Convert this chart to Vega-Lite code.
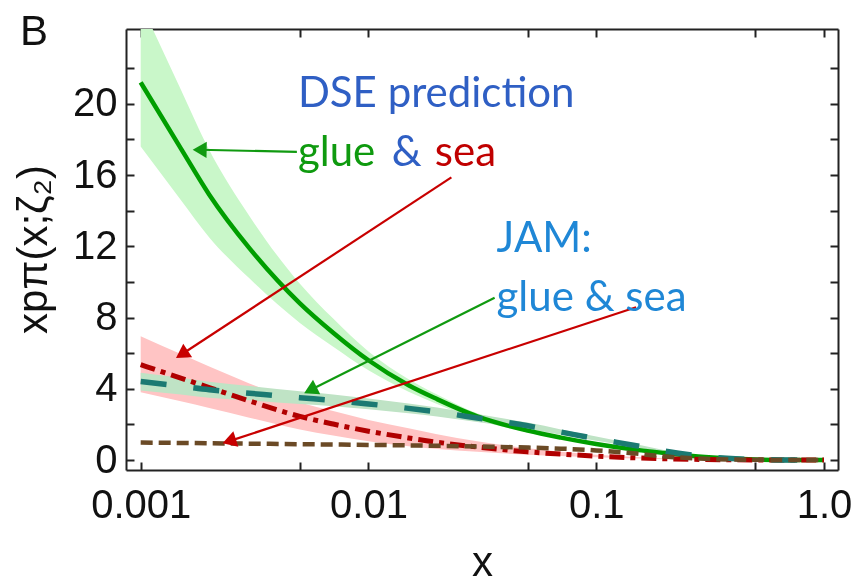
{
  "$schema": "https://vega.github.io/schema/vega-lite/v6.json",
  "autosize": {"type": "none"},
  "width": 712,
  "height": 441,
  "padding": {"top": 29, "left": 126, "right": 21, "bottom": 114},
  "background": "white",
  "title": {"text": "B", "anchor": "start", "frame": "group", "orient": "top", "offset": 0, "dx": -106, "dy": 59, "baseline": "alphabetic", "font": "Liberation Sans", "fontSize": 42, "fontWeight": "normal", "color": "#111"},
  "config": {
    "view": {"stroke": null},
    "axis": {"grid": false, "domainColor": "#222", "domainWidth": 2, "tickColor": "#222", "tickWidth": 2, "tickSize": -8, "labelFont": "Liberation Sans", "labelFontSize": 40, "labelColor": "#111", "titleFont": "Liberation Sans", "titleFontWeight": "normal", "titleColor": "#111", "labelOverlap": false, "labelFlush": false}
  },
  "datasets": {
    "curves": [
      {"x": 0.001, "g": 21.2, "g_lo": 17.6, "g_hi": 25.65, "s": 5.35, "s_lo": 3.8, "s_hi": 6.95, "jg": 4.41, "jg_lo": 3.9, "jg_hi": 4.9, "js": 0.98},
      {"x": 0.0015, "g": 17.5, "g_lo": 14.6, "g_hi": 20.8, "s": 4.6, "s_lo": 3.3, "s_hi": 5.95, "jg": 4.15, "jg_lo": 3.68, "jg_hi": 4.62, "js": 0.96},
      {"x": 0.002, "g": 14.9, "g_lo": 12.5, "g_hi": 17.4, "s": 4.07, "s_lo": 2.92, "s_hi": 5.25, "jg": 3.95, "jg_lo": 3.5, "jg_hi": 4.4, "js": 0.94},
      {"x": 0.003, "g": 11.9, "g_lo": 10.2, "g_hi": 13.7, "s": 3.32, "s_lo": 2.38, "s_hi": 4.3, "jg": 3.75, "jg_lo": 3.35, "jg_hi": 4.15, "js": 0.92},
      {"x": 0.005, "g": 8.8, "g_lo": 7.7, "g_hi": 9.9, "s": 2.45, "s_lo": 1.72, "s_hi": 3.25, "jg": 3.5, "jg_lo": 3.14, "jg_hi": 3.86, "js": 0.89},
      {"x": 0.007, "g": 7.15, "g_lo": 6.36, "g_hi": 7.94, "s": 2.02, "s_lo": 1.38, "s_hi": 2.75, "jg": 3.35, "jg_lo": 3.02, "jg_hi": 3.68, "js": 0.87},
      {"x": 0.01, "g": 5.6, "g_lo": 5.04, "g_hi": 6.1, "s": 1.62, "s_lo": 1.06, "s_hi": 2.25, "jg": 3.15, "jg_lo": 2.85, "jg_hi": 3.45, "js": 0.85},
      {"x": 0.015, "g": 4.2, "g_lo": 3.84, "g_hi": 4.54, "s": 1.24, "s_lo": 0.78, "s_hi": 1.78, "jg": 2.9, "jg_lo": 2.63, "jg_hi": 3.17, "js": 0.82},
      {"x": 0.02, "g": 3.42, "g_lo": 3.15, "g_hi": 3.68, "s": 1.0, "s_lo": 0.62, "s_hi": 1.45, "jg": 2.7, "jg_lo": 2.45, "jg_hi": 2.95, "js": 0.8},
      {"x": 0.03, "g": 2.45, "g_lo": 2.28, "g_hi": 2.62, "s": 0.73, "s_lo": 0.46, "s_hi": 1.05, "jg": 2.36, "jg_lo": 2.14, "jg_hi": 2.58, "js": 0.76},
      {"x": 0.05, "g": 1.65, "g_lo": 1.55, "g_hi": 1.76, "s": 0.46, "s_lo": 0.3, "s_hi": 0.66, "jg": 1.92, "jg_lo": 1.74, "jg_hi": 2.1, "js": 0.7},
      {"x": 0.07, "g": 1.26, "g_lo": 1.19, "g_hi": 1.34, "s": 0.33, "s_lo": 0.22, "s_hi": 0.47, "jg": 1.57, "jg_lo": 1.42, "jg_hi": 1.72, "js": 0.64},
      {"x": 0.1, "g": 0.9, "g_lo": 0.855, "g_hi": 0.95, "s": 0.22, "s_lo": 0.15, "s_hi": 0.3, "jg": 1.2, "jg_lo": 1.08, "jg_hi": 1.32, "js": 0.54},
      {"x": 0.15, "g": 0.57, "g_lo": 0.54, "g_hi": 0.6, "s": 0.12, "s_lo": 0.08, "s_hi": 0.17, "jg": 0.8, "jg_lo": 0.72, "jg_hi": 0.88, "js": 0.36},
      {"x": 0.2, "g": 0.39, "g_lo": 0.37, "g_hi": 0.41, "s": 0.07, "s_lo": 0.05, "s_hi": 0.1, "jg": 0.5, "jg_lo": 0.45, "jg_hi": 0.55, "js": 0.2},
      {"x": 0.3, "g": 0.17, "g_lo": 0.16, "g_hi": 0.18, "s": 0.03, "s_lo": 0.02, "s_hi": 0.04, "jg": 0.2, "jg_lo": 0.18, "jg_hi": 0.22, "js": 0.07},
      {"x": 0.5, "g": 0.03, "g_lo": 0.03, "g_hi": 0.03, "s": 0.005, "s_lo": 0.005, "s_hi": 0.005, "jg": 0.03, "jg_lo": 0.03, "jg_hi": 0.03, "js": 0.015},
      {"x": 0.7, "g": 0.005, "g_lo": 0.005, "g_hi": 0.005, "s": 0.001, "s_lo": 0.001, "s_hi": 0.001, "jg": 0.005, "jg_lo": 0.005, "jg_hi": 0.005, "js": 0.003},
      {"x": 1.0, "g": 0, "g_lo": 0, "g_hi": 0, "s": 0, "s_lo": 0, "s_hi": 0, "jg": 0, "jg_lo": 0, "jg_hi": 0, "js": 0}
    ],
    "arrows": [
      {"id": "a1", "c": "green", "x": 0.00485, "y": 17.3, "x2": 0.001815, "y2": 17.42},
      {"id": "a2", "c": "red", "x": 0.02312, "y": 15.87, "x2": 0.001516, "y2": 5.94},
      {"id": "a3", "c": "green", "x": 0.03581, "y": 9.11, "x2": 0.005559, "y2": 3.93},
      {"id": "a4", "c": "red", "x": 0.1496, "y": 8.58, "x2": 0.002447, "y2": 1.06}
    ],
    "notes": [
      {"t": "DSE prediction", "x": 0.0049, "y": 19.83, "c": "dse"},
      {"t": "glue", "x": 0.0049, "y": 16.5, "c": "green"},
      {"t": "&", "x": 0.01264, "y": 16.5, "c": "dse"},
      {"t": "sea", "x": 0.01955, "y": 16.5, "c": "red"},
      {"t": "JAM:", "x": 0.0365, "y": 11.66, "c": "jam"},
      {"t": "glue & sea", "x": 0.0365, "y": 8.34, "c": "jam"}
    ]
  },
  "resolve": {"axis": {"x": "independent", "y": "independent"}, "scale": {"color": "independent"}},
  "layer": [
    {
      "data": {"name": "curves"},
      "mark": {"type": "area", "color": "#c9f7c9", "clip": true, "blend": "multiply", "interpolate": "monotone"},
      "encoding": {
        "x": {"field": "x", "type": "quantitative", "scale": {"type": "log", "domain": [0.000862, 1.152], "nice": false},
          "axis": {"orient": "bottom", "values": [0.001, 0.005, 0.01, 0.05, 0.1, 0.5, 1], "labelExpr": "datum.value == 0.001 ? '0.001' : datum.value == 0.01 ? '0.01' : datum.value == 0.1 ? '0.1' : datum.value == 1 ? '1.0' : ''", "labelPadding": 23, "title": "x", "titleFontSize": 42, "titleX": 356, "titleY": 105, "titleBaseline": "alphabetic", "titleAlign": "center"}},
        "y": {"field": "g_lo", "type": "quantitative", "scale": {"domain": [-0.56, 24.2], "nice": false, "zero": false},
          "axis": {"orient": "left", "values": [0, 2, 4, 6, 8, 10, 12, 14, 16, 18, 20, 22], "labelExpr": "datum.value % 4 == 0 ? datum.label : ''", "labelPadding": 17, "title": "xpπ(x;ζ₂)", "titleFontSize": 42, "titleAngle": -90, "titleX": -80, "titleY": 220, "titleAlign": "center", "titleBaseline": "alphabetic"}},
        "y2": {"field": "g_hi"}
      }
    },
    {
      "data": {"name": "curves"},
      "mark": {"type": "area", "color": "#ffc4c4", "clip": true, "blend": "multiply", "interpolate": "monotone"},
      "encoding": {
        "x": {"field": "x", "type": "quantitative", "axis": null},
        "y": {"field": "s_lo", "type": "quantitative", "axis": null},
        "y2": {"field": "s_hi"}
      }
    },
    {
      "data": {"name": "curves"},
      "mark": {"type": "area", "color": "#bfe3c5", "clip": true, "blend": "multiply", "interpolate": "monotone"},
      "encoding": {
        "x": {"field": "x", "type": "quantitative", "axis": null},
        "y": {"field": "jg_lo", "type": "quantitative", "axis": null},
        "y2": {"field": "jg_hi"}
      }
    },
    {
      "data": {"name": "curves"},
      "mark": {"type": "line", "color": "#009e00", "strokeWidth": 4.5, "interpolate": "monotone", "clip": true},
      "encoding": {
        "x": {"field": "x", "type": "quantitative", "axis": {"orient": "top", "values": [0.001, 0.005, 0.01, 0.05, 0.1, 0.5, 1], "labels": false, "title": null}},
        "y": {"field": "g", "type": "quantitative", "axis": {"orient": "right", "values": [0, 2, 4, 6, 8, 10, 12, 14, 16, 18, 20, 22], "labels": false, "title": null}}
      }
    },
    {
      "data": {"name": "curves"},
      "mark": {"type": "line", "color": "#b00000", "strokeWidth": 5, "strokeDash": [15, 6, 5, 6], "interpolate": "monotone", "clip": true},
      "encoding": {
        "x": {"field": "x", "type": "quantitative", "axis": null},
        "y": {"field": "s", "type": "quantitative", "axis": null}
      }
    },
    {
      "data": {"name": "curves"},
      "mark": {"type": "line", "color": "#1b7a72", "strokeWidth": 5.5, "strokeDash": [26, 27], "interpolate": "monotone", "clip": true},
      "encoding": {
        "x": {"field": "x", "type": "quantitative", "axis": null},
        "y": {"field": "jg", "type": "quantitative", "axis": null}
      }
    },
    {
      "data": {"name": "curves"},
      "mark": {"type": "line", "color": "#6b4a26", "strokeWidth": 4.5, "strokeDash": [12, 6], "interpolate": "monotone", "clip": true},
      "encoding": {
        "x": {"field": "x", "type": "quantitative", "axis": null},
        "y": {"field": "js", "type": "quantitative", "axis": null}
      }
    },
    {
      "data": {"name": "arrows"},
      "mark": {"type": "rule", "strokeWidth": 2.2},
      "encoding": {
        "x": {"field": "x", "type": "quantitative", "axis": null},
        "y": {"field": "y", "type": "quantitative", "axis": null},
        "x2": {"field": "x2"},
        "y2": {"field": "y2"},
        "color": {"field": "c", "type": "nominal", "scale": {"domain": ["green", "red"], "range": ["#109a10", "#c80000"]}, "legend": null}
      }
    },
    {
      "data": {"name": "arrows"},
      "transform": [{"filter": "datum.id == 'a1'"}],
      "mark": {"type": "point", "shape": "triangle-up", "filled": true, "size": 260, "angle": 271, "color": "#109a10", "opacity": 1},
      "encoding": {
        "x": {"field": "x2", "type": "quantitative", "axis": null},
        "y": {"field": "y2", "type": "quantitative", "axis": null}
      }
    },
    {
      "data": {"name": "arrows"},
      "transform": [{"filter": "datum.id == 'a2'"}],
      "mark": {"type": "point", "shape": "triangle-up", "filled": true, "size": 260, "angle": 236.8, "color": "#c80000", "opacity": 1},
      "encoding": {
        "x": {"field": "x2", "type": "quantitative", "axis": null},
        "y": {"field": "y2", "type": "quantitative", "axis": null}
      }
    },
    {
      "data": {"name": "arrows"},
      "transform": [{"filter": "datum.id == 'a3'"}],
      "mark": {"type": "point", "shape": "triangle-up", "filled": true, "size": 260, "angle": 243.5, "color": "#109a10", "opacity": 1},
      "encoding": {
        "x": {"field": "x2", "type": "quantitative", "axis": null},
        "y": {"field": "y2", "type": "quantitative", "axis": null}
      }
    },
    {
      "data": {"name": "arrows"},
      "transform": [{"filter": "datum.id == 'a4'"}],
      "mark": {"type": "point", "shape": "triangle-up", "filled": true, "size": 260, "angle": 251.9, "color": "#c80000", "opacity": 1},
      "encoding": {
        "x": {"field": "x2", "type": "quantitative", "axis": null},
        "y": {"field": "y2", "type": "quantitative", "axis": null}
      }
    },
    {
      "data": {"name": "notes"},
      "mark": {"type": "text", "align": "left", "baseline": "alphabetic", "font": "Lato", "fontSize": 42},
      "encoding": {
        "x": {"field": "x", "type": "quantitative", "axis": null},
        "y": {"field": "y", "type": "quantitative", "axis": null},
        "text": {"field": "t"},
        "color": {"field": "c", "type": "nominal", "scale": {"domain": ["dse", "green", "red", "jam"], "range": ["#2f5fc4", "#0f9a0f", "#c00000", "#1f87d6"]}, "legend": null}
      }
    }
  ]
}
